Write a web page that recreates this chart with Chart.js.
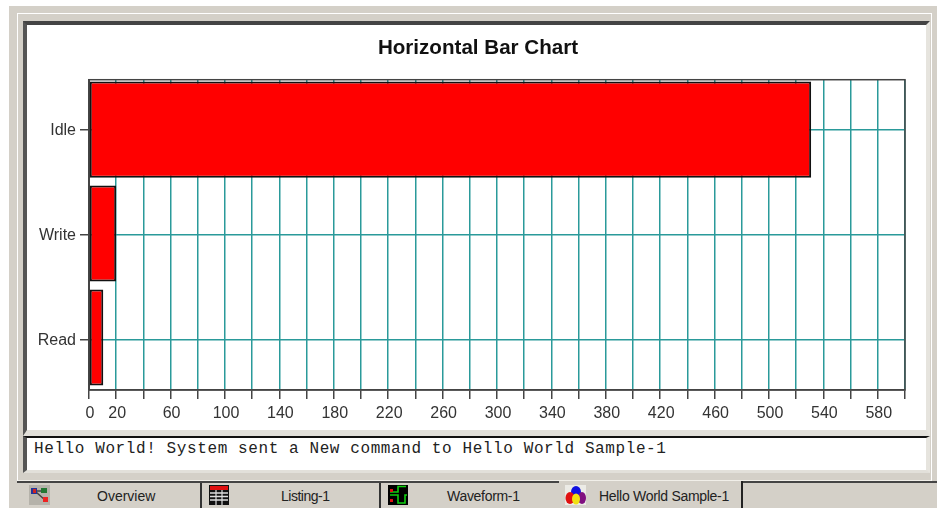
<!DOCTYPE html>
<html>
<head>
<meta charset="utf-8">
<title>Horizontal Bar Chart</title>
<script src="https://cdn.jsdelivr.net/npm/chart.js@4/dist/chart.umd.min.js"></script>
<style>
  html, body { margin: 0; padding: 0; background: #fff; overflow: hidden; }
  .box { position: absolute; box-sizing: border-box; }
  #frame { left: 9px; top: 6px; width: 928px; height: 502px; background: #d4d0c8; }
  #outer { left: 17px; top: 13px; width: 915px; height: 469px; background: #d4d0c8;
    border-top: 1px solid #fff; border-left: 1px solid #fff; border-right: 1px solid #fff;
    border-bottom: 2px solid #f1efe9; }
  #panel { left: 23px; top: 21px; width: 907px; height: 415px; background: #fff;
    border-top: 4px solid #444; border-left: 4px solid #555;
    border-right: 4px solid #e6e4de; border-bottom: 6px solid #e2e0da; }
  #status { left: 23px; top: 436px; width: 907px; height: 37px; background: #fff;
    border-top: 2px solid #111; border-left: 4px solid #555;
    border-right: 4px solid #e6e4de; border-bottom: 3px solid #e2e0da; }
  #statusText { position: absolute; left: 34px; top: 440px; font: 16px "Liberation Mono", monospace;
    letter-spacing: 0.6px; color: #222; white-space: pre; line-height: 18px; }
  #tabline { left: 17px; top: 481px; width: 920px; height: 2px; background: #444; }
  .tab { top: 483px; height: 25px; background: #d4d0c8; color: #222; white-space: nowrap;
    font: 14px "Liberation Sans", sans-serif; line-height: 26px; border-right: 2px solid #333;
    letter-spacing: -0.3px; }
  .tab svg { position: absolute; left: 5px; top: 2px; }
  #chart { position: absolute; left: 28px; top: 25px; }
</style>
</head>
<body>
<div id="frame" class="box"></div>
<div id="outer" class="box"></div>
<div id="panel" class="box"></div>
<div id="status" class="box"></div>
<div id="statusText">Hello World! System sent a New command to Hello World Sample-1</div>
<div id="tabline" class="box"></div>

<div class="box tab" style="left:24px;width:178px;padding-left:73px;letter-spacing:0;">
  <svg width="21" height="20" viewBox="0 0 21 20"><rect width="21" height="20" fill="#b5b2aa"/><path d="M6 6H16M7 7L16 15" stroke="#444" stroke-width="1.5"/><rect x="2" y="3" width="6" height="6" fill="#223399"/><rect x="4" y="4" width="3" height="4" fill="#cc2222"/><rect x="12" y="3" width="6" height="5" fill="#227733"/><rect x="14" y="12" width="5" height="5" fill="#ee2222"/></svg>
  Overview
</div>
<div class="box tab" style="left:202px;width:179px;padding-left:79px;letter-spacing:-0.5px;">
  <svg style="left:7px" width="20" height="20" viewBox="0 0 20 20"><rect width="20" height="20" fill="#111"/><rect x="1" y="1" width="18" height="4" fill="#e01010"/><path d="M1 8H19M1 11.5H19M1 15H19" stroke="#ddd" stroke-width="1.5"/><path d="M7 5V20M13 5V20" stroke="#ddd" stroke-width="1.2"/></svg>
  Listing-1
</div>
<div class="box tab" style="left:381px;width:178px;padding-left:66px;border-right:0;">
  <svg style="left:7px" width="20" height="20" viewBox="0 0 20 20"><rect width="20" height="20" fill="#000"/><path d="M2 7H10V1.5H18M2 10H10V18H17V10H19" fill="none" stroke="#10d010" stroke-width="1.6"/><rect x="2" y="4" width="3" height="3" fill="#e01010"/><rect x="2" y="14" width="3" height="3" fill="#e01010"/></svg>
  Waveform-1
</div>
<div class="box tab" style="left:559px;width:184px;top:481px;height:27px;padding-left:40px;line-height:30px;border-right:2px solid #222;">
  <svg style="left:6px;top:4px" width="21" height="20" viewBox="0 0 21 20"><rect width="21" height="20" fill="#ecebe6"/><ellipse cx="11" cy="7" rx="5" ry="6" fill="#1010e0"/><ellipse cx="5" cy="13" rx="4.5" ry="6" fill="#e01010"/><ellipse cx="17" cy="13" rx="4" ry="6" fill="#801080"/><ellipse cx="11" cy="14" rx="4" ry="5.5" fill="#f0e010"/></svg>
  Hello World Sample-1
</div>

<canvas id="chart" width="900" height="405"></canvas>

<script>
const chartTitle = "Horizontal Bar Chart";
const categories = ["Idle", "Write", "Read"];
const categoryPositions = [0, 1, 2];
// the bars sit a little above their tick marks in the picture, more so further down
const barPositions = [0, 0.99, 1.98];
const barValues = [531, 20, 10.5];
const xTickLabels = [0, 20, 60, 100, 140, 180, 220, 260, 300, 340, 380, 420, 460, 500, 540, 580];
const xMax = 600;
const xStep = 20;

const axisColor = "#444444";
const gridColor = "#2a9a9a";
const labelFont = { family: "'Liberation Sans', sans-serif", size: 16 };

// box round the plot, and the title centred on the whole canvas
const plotFrame = {
  id: "plotFrame",
  afterLayout(chart) {
    chart.titleBlock.left = 0;
    chart.titleBlock.right = chart.width;
  },
  beforeDatasetsDraw(chart) {
    const { ctx, chartArea } = chart;
    ctx.save();
    ctx.strokeStyle = axisColor;
    ctx.lineWidth = 1.5;
    ctx.strokeRect(chartArea.left, chartArea.top, chartArea.width, chartArea.height);
    ctx.restore();
  },
};

new Chart(document.getElementById("chart"), {
  type: "bar",
  data: {
    datasets: [
      {
        data: barValues.map((v, i) => ({ x: v, y: barPositions[i] })),
        backgroundColor: "#ff0000",
        borderColor: "#111111",
        borderWidth: 2,
        borderSkipped: false,
        barPercentage: 0.925,
        categoryPercentage: 1,
      },
    ],
  },
  plugins: [plotFrame],
  options: {
    indexAxis: "y",
    responsive: false,
    animation: false,
    layout: { padding: { left: 0, right: 23, top: 0, bottom: 0 } },
    plugins: {
      legend: { display: false },
      tooltip: { enabled: false },
      title: {
        display: true,
        text: chartTitle,
        color: "#111111",
        font: { family: "'Liberation Sans', sans-serif", size: 20.6, weight: "bold" },
        padding: { top: 11, bottom: 19 },
      },
    },
    scales: {
      x: {
        type: "linear",
        min: 0,
        max: xMax,
        afterFit: (scale) => { scale.height = 40; },
        ticks: {
          stepSize: xStep,
          autoSkip: false,
          maxRotation: 0,
          color: "#333333",
          font: labelFont,
          padding: 5,
          labelOffset: 1,
          callback: (value) => (xTickLabels.includes(value) ? String(value) : ""),
        },
        grid: { color: gridColor, tickColor: axisColor, lineWidth: 1.5, tickLength: 9 },
        border: { color: axisColor, width: 1.5 },
      },
      y: {
        type: "linear",
        reverse: true,
        offset: false,
        min: -0.476,
        max: 2.481,
        afterFit: (scale) => { scale.width = 61; },
        afterBuildTicks: (scale) => {
          scale.ticks = categoryPositions.map((p) => ({ value: p }));
        },
        ticks: {
          color: "#333333",
          font: labelFont,
          padding: 4,
          labelOffset: 1,
          callback: (value) => categories[value],
        },
        grid: { offset: false, color: gridColor, tickColor: axisColor, lineWidth: 1.5, tickLength: 9 },
        border: { color: axisColor, width: 2 },
      },
    },
  },
});
</script>
</body>
</html>
